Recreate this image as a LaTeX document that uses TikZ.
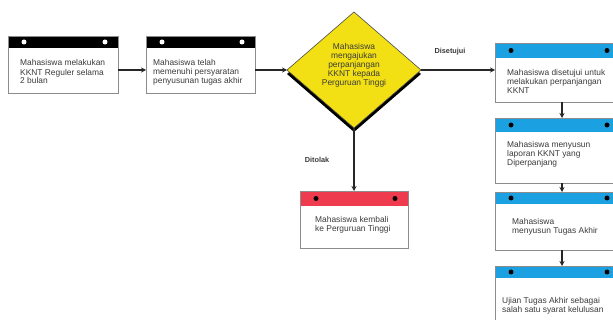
\documentclass[tikz,border=0pt]{standalone}
\usepackage{fontspec}
\setmainfont{Liberation Sans}
\usetikzlibrary{shapes.geometric,arrows.meta}
\definecolor{cardred}{HTML}{EE3B4E}
\definecolor{cardblue}{HTML}{1BA1E2}
\definecolor{dyellow}{HTML}{F2E014}
\definecolor{bordergray}{HTML}{8C8C8C}
\definecolor{txtgray}{HTML}{3A3A3A}
\tikzset{
  cardbox/.style={rectangle, inner sep=0pt, outer sep=0pt, fill=white},
  cardline/.style={draw=bordergray, line width=0.8pt},
  txt/.style={inner sep=0pt, align=left, text=txtgray, font=\fontsize{8.4}{9}\selectfont},
  lbl/.style={inner sep=0pt, text=txtgray, font=\fontsize{7.3}{8}\selectfont\bfseries},
  arr/.style={draw=black!85, line width=1.2pt, -{Stealth[length=5pt,width=5pt]}},
  dshape/.style={diamond, inner sep=0pt, outer sep=0pt, minimum width=134pt, minimum height=116pt},
}
\newcommand\card[8]{%
  \node[cardbox, minimum width=#4pt, minimum height=#5pt, anchor=north west] (#1) at (#2,#3) {};
  \fill[#7] (#1.north west) rectangle ([yshift=-#6pt]#1.north east);
  \draw[cardline] (#1.north west) rectangle (#1.south east);
  \fill[#8] ([xshift=16pt,yshift={-0.5*#6pt}]#1.north west) circle (2.5pt);
  \fill[#8] ([xshift=-13pt,yshift={-0.5*#6pt}]#1.north east) circle (2.5pt);
}
\begin{document}
\begin{tikzpicture}[x=1pt,y=-1pt]
\useasboundingbox (0,0) rectangle (613,320);
\clip (0,0) rectangle (613,320);
\fill[white] (0,0) rectangle (613,320);

% left boxes
\card{b1}{8}{36}{110}{57}{12}{black}{white}
\node[txt, anchor=west] (t1) at (20,72) {Mahasiswa melakukan\\KKNT Reguler selama\\2 bulan};
\card{b2}{146}{36}{109}{57}{12}{black}{white}
\node[txt, anchor=west] (t2) at (153,72) {Mahasiswa telah\\memenuhi persyaratan\\penyusunan tugas akhir};

% decision
\node[dshape, fill=black] (dsh) at (354,74) {};
\node[dshape, fill=dyellow, draw=black!70, line width=0.6pt] (dmd) at (354,70) {};
\node[txt, align=center, font=\fontsize{8.4}{9}\selectfont] (dtxt) at (354,65) {Mahasiswa\\mengajukan\\perpanjangan\\KKNT kepada\\Perguruan Tinggi};

% rejected
\card{b7}{300}{191}{108}{57}{15}{cardred}{black}
\node[txt, anchor=west] (t7) at (315,225) {Mahasiswa kembali\\ke Perguruan Tinggi};

% right column
\card{b3}{495}{43}{125}{59}{15}{cardblue}{black}
\node[txt, anchor=west] (t3) at (507,81) {Mahasiswa disetujui untuk\\melakukan perpanjangan\\KKNT};
\card{b4}{495}{118}{125}{65}{14}{cardblue}{black}
\node[txt, anchor=west] (t4) at (507,154) {Mahasiswa menyusun\\laporan KKNT yang\\Diperpanjang};
\card{b5}{495}{192}{125}{58}{12}{cardblue}{black}
\node[txt, anchor=west] (t5) at (512,227) {Mahasiswa\\menyusun Tugas Akhir};
\card{b6}{495}{266}{125}{70}{12}{cardblue}{black}
\node[txt, anchor=west] (t6) at (502,306) {Ujian Tugas Akhir sebagai\\salah satu syarat kelulusan};

% labels
\node[lbl] (lyes) at (450,52) {Disetujui};
\node[lbl] (lno) at (317,160) {Ditolak};

% connectors
\coordinate (col) at (562,0);
\draw[arr] (b1.east |- dmd.west) -- (b2.west |- dmd.west);
\draw[arr] (b2.east |- dmd.west) -- (dmd.west);
\draw[arr] (dmd.east) -- (b3.west |- dmd.east);
\draw[arr] (dmd.south) -- (b7.north);
\draw[arr] (b3.south -| col) -- (b4.north -| col);
\draw[arr] (b4.south -| col) -- (b5.north -| col);
\draw[arr] (b5.south -| col) -- (b6.north -| col);
\end{tikzpicture}
\end{document}
